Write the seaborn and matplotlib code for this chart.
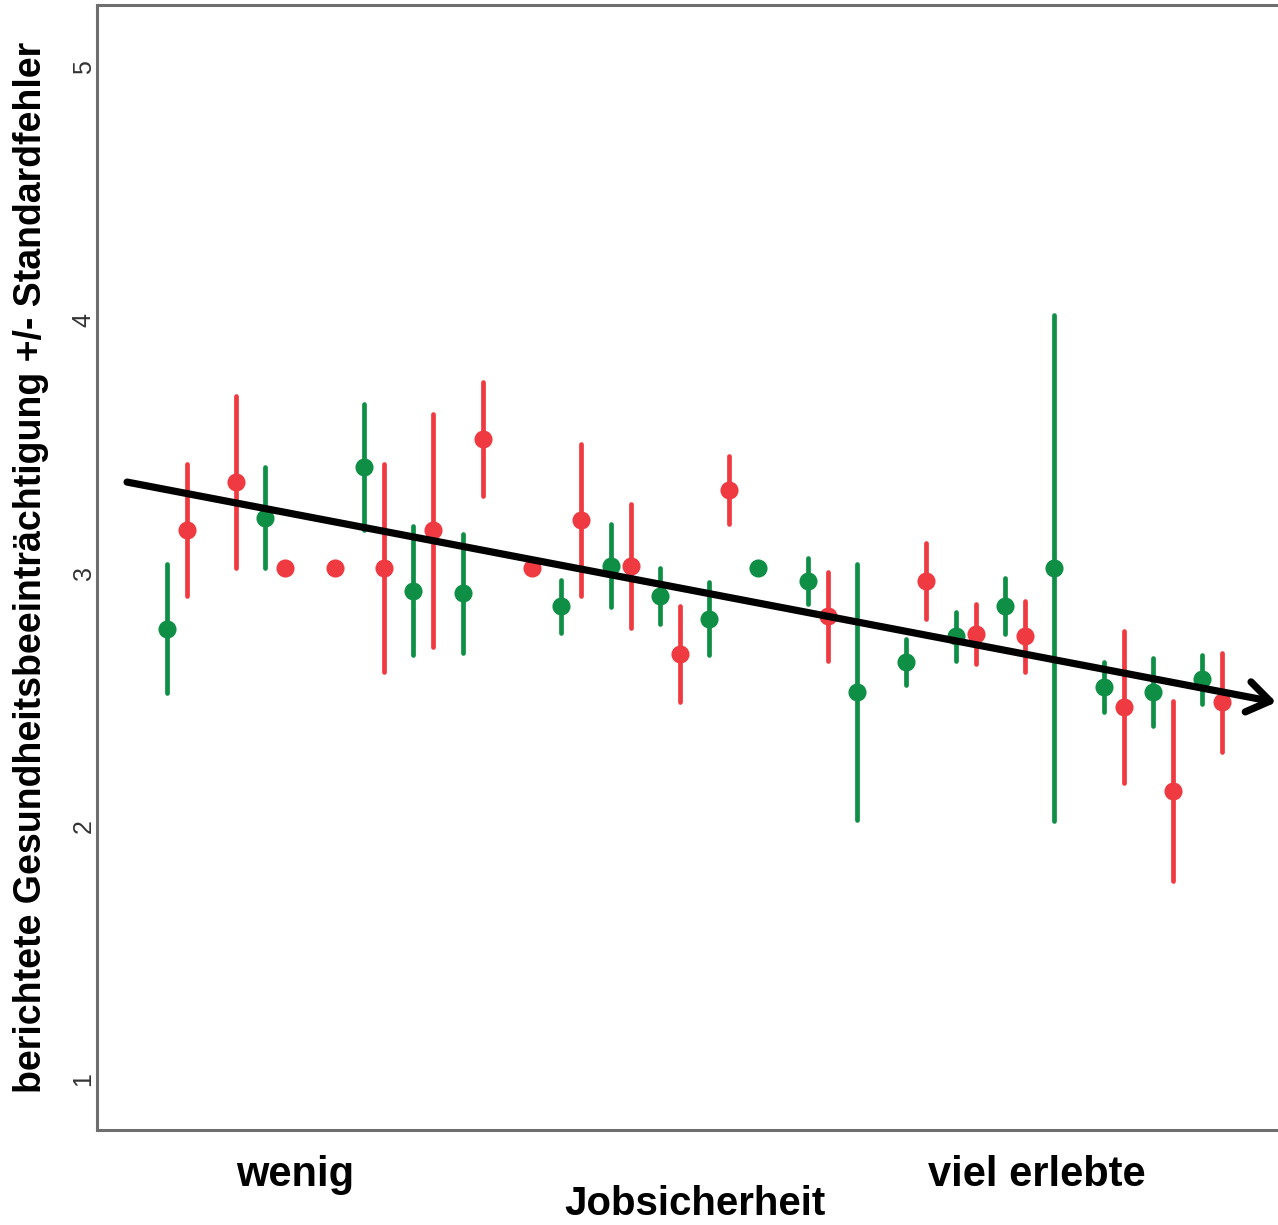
import numpy as np
import pandas as pd
import seaborn as sns
import matplotlib.pyplot as plt

# Kategorien (Jobsicherheit, 22 Stufen)
cats = list(range(1, 23))

# Mittelwerte und Standardfehler je Gruppe (NaN = keine Daten)
green_mean = [2.78, np.nan, 3.22, np.nan, 3.42, 2.93, 2.92, np.nan, 2.87, 3.03, 2.91,
              2.82, 3.02, 2.97, 2.53, 2.65, 2.75, 2.87, 3.02, 2.55, 2.53, 2.58]
green_se = [0.255, np.nan, 0.20, np.nan, 0.25, 0.255, 0.235, np.nan, 0.105, 0.165, 0.11,
            0.145, 0.0, 0.09, 0.505, 0.09, 0.095, 0.11, 1.0, 0.10, 0.135, 0.095]
red_mean = [3.17, 3.36, 3.02, 3.02, 3.02, 3.17, 3.53, 3.02, 3.21, 3.03, 2.68,
            3.33, np.nan, 2.83, np.nan, 2.97, 2.76, 2.75, np.nan, 2.47, 2.14, 2.49]
red_se = [0.26, 0.34, 0.0, 0.0, 0.41, 0.46, 0.225, 0.0, 0.30, 0.245, 0.19,
          0.135, np.nan, 0.175, np.nan, 0.15, 0.12, 0.14, np.nan, 0.30, 0.355, 0.195]

xtick_labels = ["wenig", "viel erlebte"]

# long format: mean-se, mean, mean+se -> mean = Mittelwert, min/max = Fehlerbalken
rows = []
for grp, means, ses in [("A", green_mean, green_se), ("B", red_mean, red_se)]:
    for c, m, s in zip(cats, means, ses):
        if np.isnan(m):
            continue
        for v in (m - s, m, m + s):
            rows.append({"cat": c, "grp": grp, "val": v})
df = pd.DataFrame(rows)

sns.set_style("white")
plt.rcParams['font.family'] = ['Liberation Sans', 'DejaVu Sans']
plt.rcParams['text.color'] = 'black'
plt.rcParams['axes.labelcolor'] = 'black'

fig = plt.figure(figsize=(12.78, 12.25), dpi=100)
ax = fig.add_axes([97 / 1278, 95 / 1225, (1293 - 97) / 1278, 1125 / 1225])

sns.pointplot(data=df, x="cat", y="val", hue="grp", order=cats, hue_order=["A", "B"],
              palette={"A": "#0f8f45", "B": "#ee3a40"}, estimator="mean",
              errorbar=lambda v: (v.min(), v.max()), dodge=0.406, linestyle="none",
              markers="o", markersize=11,
              err_kws={"linewidth": 3.4, "solid_capstyle": "round"},
              legend=False, ax=ax)

ax.set_xlim(-1.62, 22.64)
ax.set_ylim(0.80, 5.245)

# Trendpfeil
ax.annotate("", xy=(22.30, 2.49), xytext=(-1.01, 3.36),
            arrowprops=dict(arrowstyle="->,head_length=0.8,head_width=0.55",
                            mutation_scale=20, lw=5.2, color="black",
                            shrinkA=0, shrinkB=0, capstyle="round"),
            annotation_clip=False)

ax.set_yticks([1, 2, 3, 4, 5])
ax.set_yticklabels(["1", "2", "3", "4", "5"], rotation=90, va="center",
                   fontsize=18, color="#333333")
ax.set_xticks([2.41, 17.44])
ax.set_xticklabels(xtick_labels, fontsize=30, fontweight="bold", color="black")
ax.tick_params(axis="both", length=0)
ax.tick_params(axis="y", pad=1)
ax.tick_params(axis="x", pad=18)

ax.set_xlabel("Jobsicherheit", fontsize=29, fontweight="bold")
ax.xaxis.set_label_coords(0.5, -0.049)
ax.set_ylabel("berichtete Gesundheitsbeeinträchtigung +/- Standardfehler",
              fontsize=27, fontweight="bold", labelpad=16)

for side in ["left", "bottom", "top"]:
    ax.spines[side].set_color("#6e6e6e")
    ax.spines[side].set_linewidth(2.2)
ax.spines["right"].set_visible(False)

fig.savefig("out.png", dpi=100)
